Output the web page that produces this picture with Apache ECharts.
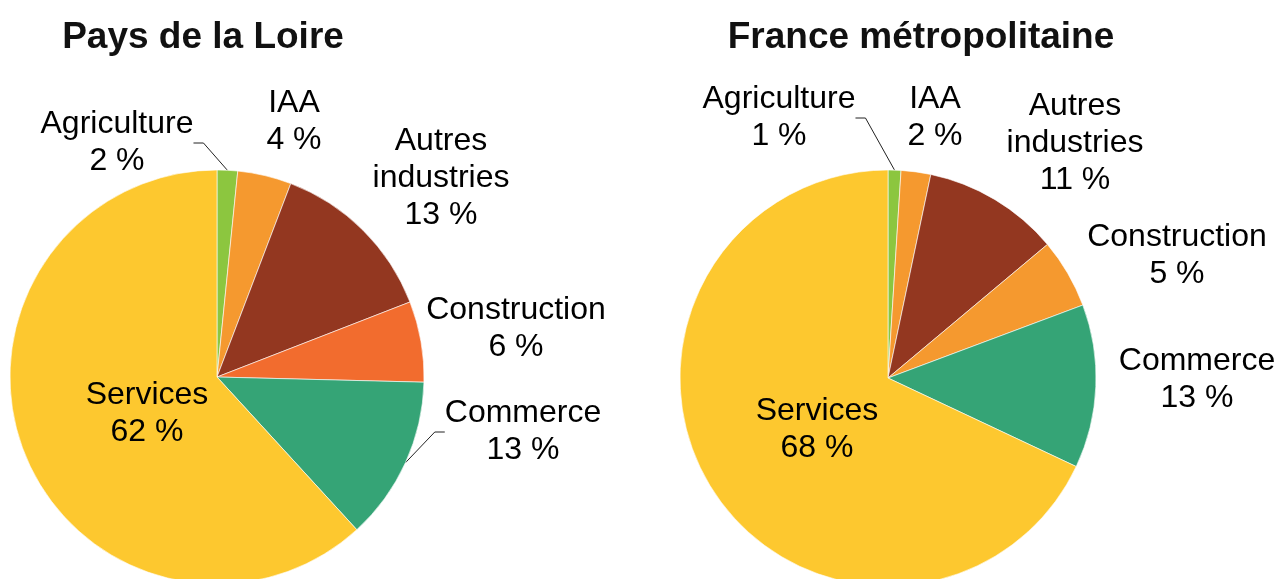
<!DOCTYPE html>
<html lang="fr">
<head>
    <meta charset="UTF-8">
    <title>Emploi par secteur</title>
    <script src="https://cdn.jsdelivr.net/npm/echarts@6/dist/echarts.min.js"></script>
    <style>
        html,
        body {
            margin: 0;
            padding: 0;
            background: #fff;
        }
        #main {
            width: 1283px;
            height: 579px;
        }
    </style>
</head>
<body>
    <div id="main"></div>
    <script>
        // secteurs (ordre horaire depuis midi)
        var sectors = ['Agriculture', 'IAA', 'Autres industries', 'Construction', 'Commerce', 'Services'];
        // parts en %
        var paysLoire = [1.6, 4.2, 13.3, 6.3, 12.8, 61.8];
        var franceMetro = [1.0, 2.3, 10.6, 5.4, 12.7, 68.0];
        var titles = ['Pays de la Loire', 'France métropolitaine'];

        var colorsLeft = ['#8cc63f', '#f5992f', '#933720', '#f26c2e', '#35a476', '#fdc82f'];
        var colorsRight = ['#8cc63f', '#f5992f', '#933720', '#f5992f', '#35a476', '#fdc82f'];

        // position des étiquettes (centre du bloc de texte)
        var labelPos = [
            [[117, 143], [294, 122], [441, 178], [516, 329], [523, 432], [147, 414]],
            [[779, 118], [935, 118], [1075, 143], [1177, 256], [1197, 380], [817, 430]]
        ];
        // quelles étiquettes ont un trait de rappel
        var withLine = [
            [true, false, false, false, true, false],
            [true, false, false, false, false, false]
        ];

        function buildData(values, colors, s) {
            return values.map(function (v, i) {
                return {
                    name: sectors[i],
                    value: v,
                    itemStyle: { color: colors[i] },
                    labelLine: { show: withLine[s][i] }
                };
            });
        }

        var labelStyle = {
            show: true,
            position: 'outside',
            fontFamily: 'Liberation Sans, Arial, sans-serif',
            fontSize: 32,
            lineHeight: 37,
            color: '#000',
            align: 'center',
            formatter: function (p) {
                return p.name.replace('Autres ', 'Autres\n') + '\n' + Math.round(p.value) + ' %';
            }
        };

        function makeSeries(s, values, colors, center, radius) {
            return {
                type: 'pie',
                center: center,
                radius: radius,
                startAngle: 90,
                clockwise: true,
                avoidLabelOverlap: false,
                animation: false,
                silent: true,
                itemStyle: { borderColor: '#fff', borderWidth: 0.6 },
                label: labelStyle,
                labelLine: {
                    show: true,
                    length: 10,
                    length2: 10,
                    smooth: false,
                    lineStyle: { color: '#222', width: 1 }
                },
                labelLayout: function (params) {
                    var p = labelPos[s][params.dataIndex];
                    return { x: p[0], y: p[1], align: 'center', verticalAlign: 'middle' };
                },
                data: buildData(values, colors, s)
            };
        }

        var myChart = echarts.init(document.getElementById('main'), null, { renderer: 'canvas' });
        var titleStyle = {
            fontFamily: 'Liberation Sans, Arial, sans-serif',
            fontWeight: 'bold',
            fontSize: 37,
            color: '#111'
        };
        var option = {
            backgroundColor: '#fff',
            title: [
                { text: titles[0], left: 198, top: 14, textAlign: 'center', textStyle: titleStyle },
                { text: titles[1], left: 916, top: 14, textAlign: 'center', textStyle: titleStyle }
            ],
            series: [
                makeSeries(0, paysLoire, colorsLeft, [217, 377], 207),
                makeSeries(1, franceMetro, colorsRight, [888, 378], 208)
            ]
        };
        myChart.setOption(option);
    </script>
</body>
</html>
